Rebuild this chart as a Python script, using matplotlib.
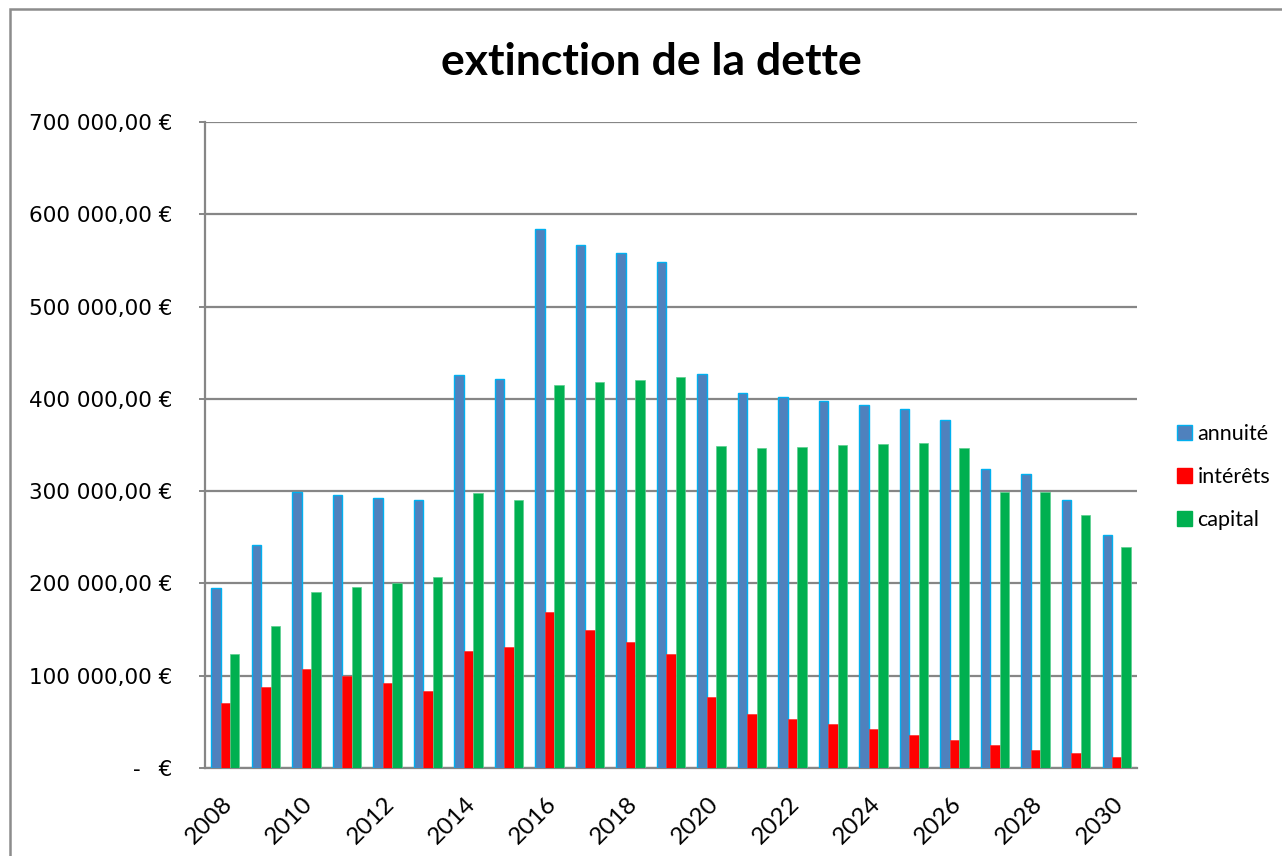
import matplotlib
matplotlib.use("Agg")
import matplotlib.pyplot as plt
import matplotlib.ticker as mticker
import matplotlib.transforms as mtransforms
from matplotlib.patches import Rectangle, Patch
import numpy as np

years = list(range(2008, 2031))
annuite = [195000, 242000, 299000, 296000, 293000, 290000, 425500, 421000,
           584000, 567000, 558000, 548000, 426500, 406000, 401600, 397300,
           393300, 389000, 377400, 323600, 319000, 290000, 253000]
interets = [70000, 88000, 107500, 100000, 92000, 83000, 127000, 131000,
            169000, 150000, 137000, 124000, 77000, 59000, 53500, 47500,
            42000, 36000, 30000, 24500, 20000, 16000, 12000]
capital = [124000, 153500, 191000, 196000, 201000, 206600, 298000, 290000,
           414600, 418000, 420700, 423600, 348500, 346400, 347800, 349600,
           351000, 352500, 347000, 299000, 299000, 274000, 240000]
series_names = ["annuité", "intérêts", "capital"]
title = "extinction de la dette"

W, H = 1282, 856
fig = plt.figure(figsize=(W / 100, H / 100), dpi=100)
fig.patch.set_facecolor("white")

# chart-area border (left and top visible)
fig.patches.append(Rectangle((10 / W, -0.2), 1.5, 1 - 9 / H + 0.2,
                             transform=fig.transFigure, fill=False,
                             edgecolor="#8c8c8c", linewidth=1.8, zorder=0))

ax = fig.add_axes([205 / W, 1 - 768 / H, (1137 - 205) / W, (768 - 122) / H])
x = np.arange(len(years))
w = 0.234
grey = "#868686"
ax.bar(x - w, annuite, width=w, color="#4F81BD", edgecolor="#00B0F0",
       linewidth=1.0, zorder=3, label=series_names[0])
ax.bar(x, interets, width=w, color="#FF0000", edgecolor="#FF3030",
       linewidth=0.5, zorder=3, label=series_names[1])
ax.bar(x + w, capital, width=w, color="#00B050", edgecolor="#5ccf8f",
       linewidth=0.5, zorder=3, label=series_names[2])

ax.set_xlim(-0.5, len(years) - 0.5)
ax.set_ylim(0, 700000)
ax.yaxis.set_major_locator(mticker.MultipleLocator(100000))


def fmt(v, pos):
    if abs(v) < 1e-6:
        return "-  \u2009€"
    s = f"{v:,.2f}".replace(",", " ").replace(".", ",")
    return s + " €"


ax.yaxis.set_major_formatter(mticker.FuncFormatter(fmt))
ax.grid(axis="y", color=grey, linewidth=1.6, zorder=1)
ax.set_axisbelow(True)
for s in ["top", "right"]:
    ax.spines[s].set_visible(False)
for s in ["left", "bottom"]:
    ax.spines[s].set_color(grey)
    ax.spines[s].set_linewidth(1.6)
ax.tick_params(axis="y", length=4, width=1.4, color=grey, pad=19.5,
               labelsize=15.5)
for lab in ax.get_yticklabels():
    lab.set_family("DejaVu Sans")

ax.set_xticks(x[::2])
ax.set_xticklabels([str(y) for y in years[::2]], rotation=45, ha="right",
                   va="top", rotation_mode="anchor", fontsize=17.5,
                   family="Lato")
ax.tick_params(axis="x", length=0, pad=18)
offset = mtransforms.ScaledTranslation(-4 / 100, 0, fig.dpi_scale_trans)
for lab in ax.get_xticklabels():
    lab.set_transform(lab.get_transform() + offset)

fig.text(651 / W, 1 - 62 / H, title, ha="center", va="center",
         fontsize=32, fontweight="bold", family="Lato")

handles = [Patch(facecolor="#4F81BD", edgecolor="#00B0F0", linewidth=1.0),
           Patch(facecolor="#FF0000", edgecolor="#FF0000"),
           Patch(facecolor="#00B050", edgecolor="#00B050")]
leg = fig.legend(handles, series_names, loc="center left",
                 bbox_to_anchor=(1177 / W, 1 - 477 / H), frameon=False,
                 prop={"family": "Lato", "size": 15.5},
                 handlelength=0.7, handleheight=0.7, handletextpad=0.25,
                 labelspacing=1.05, borderpad=0, borderaxespad=0)

fig.savefig("out.png", dpi=100, facecolor="white")
